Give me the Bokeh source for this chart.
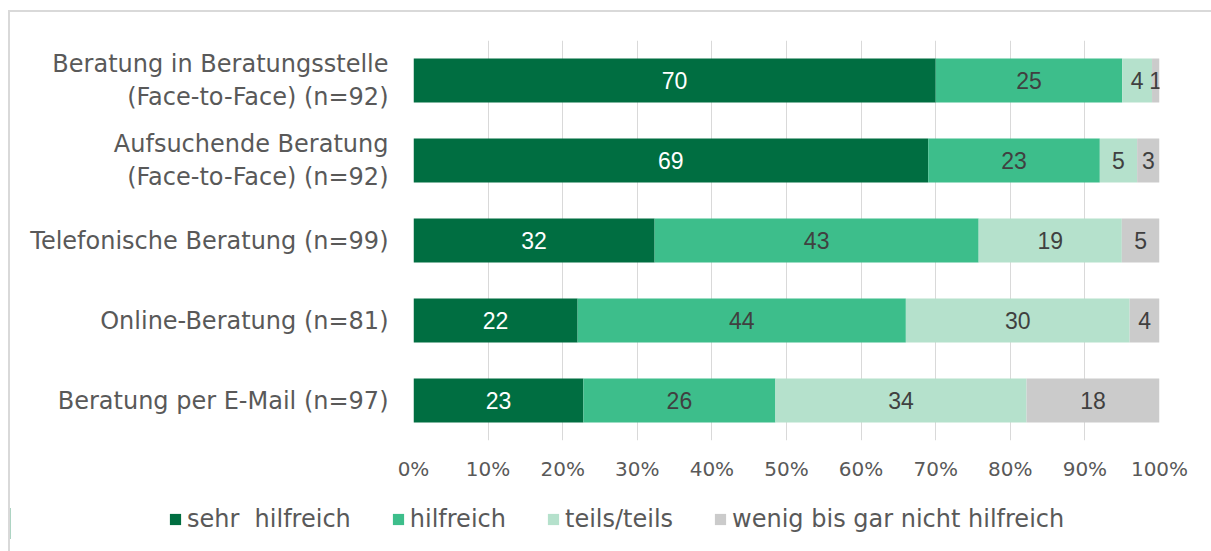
from bokeh.plotting import figure
from bokeh.layouts import column, row
from bokeh.models import (ColumnDataSource, FactorRange, Range1d, FixedTicker,
                          NumeralTickFormatter, Legend, LegendItem)
from bokeh.embed import file_html
from bokeh.resources import INLINE
from bokeh.core.properties import value

categories = [
    "Beratung in Beratungsstelle\n(Face-to-Face) (n=92)",
    "Aufsuchende Beratung\n(Face-to-Face) (n=92)",
    "Telefonische Beratung (n=99)",
    "Online-Beratung (n=81)",
    "Beratung per E-Mail (n=97)",
]
series_names = ["sehr  hilfreich", "hilfreich", "teils/teils", "wenig bis gar nicht hilfreich"]
sehr_hilfreich = [70, 69, 32, 22, 23]
hilfreich = [25, 23, 43, 44, 26]
teils_teils = [4, 5, 19, 30, 34]
wenig_bis_gar_nicht = [1, 3, 5, 4, 18]
x_ticks = [0.0, 0.1, 0.2, 0.3, 0.4, 0.5, 0.6, 0.7, 0.8, 0.9, 1.0]

colors = ["#006e41", "#3dbe8b", "#b5e1cc", "#cbcbcb"]
label_colors = ["#ffffff", "#404040", "#404040", "#404040"]
FONT = "DejaVu Sans"
LABEL_FONT = "Liberation Sans"
GREY = "#595959"

series_values = [sehr_hilfreich, hilfreich, teils_teils, wenig_bis_gar_nicht]
keys = ["s0", "s1", "s2", "s3"]
totals = [sum(v[i] for v in series_values) for i in range(len(categories))]

data = {"cat": categories}
for k, vals in zip(keys, series_values):
    data[k] = [vals[i] / totals[i] for i in range(len(categories))]
source = ColumnDataSource(data)

# label positions computed from the data
lx, ly, lt, lc = [], [], [], []
for i, cat in enumerate(categories):
    cum = 0.0
    for j, vals in enumerate(series_values):
        share = vals[i] / totals[i]
        lx.append(cum + share / 2)
        ly.append(cat)
        lt.append(str(vals[i]))
        lc.append(label_colors[j])
        cum += share
lab_src = ColumnDataSource(dict(x=lx, y=ly, text=lt, color=lc))

p = figure(width=1201, height=483, output_backend="svg", toolbar_location=None,
           x_range=Range1d(0, 1), y_range=FactorRange(factors=list(reversed(categories))),
           frame_width=746, frame_height=400, min_border_left=403, min_border_top=28,
           min_border_right=52, min_border_bottom=55)
p.outline_line_color = None
p.background_fill_color = "white"
p.border_fill_color = "white"

renderers = p.hbar_stack(keys, y="cat", height=0.55, color=colors, line_color=None, source=source)

p.text(x="x", y="y", text="text", source=lab_src, text_color="color",
       text_align="center", text_baseline="middle",
       text_font=value(LABEL_FONT), text_font_size="23px")

# axes
p.xaxis.ticker = FixedTicker(ticks=x_ticks)
p.xaxis.formatter = NumeralTickFormatter(format="0%")
p.xaxis.axis_line_color = None
p.xaxis.major_tick_line_color = None
p.xaxis.minor_tick_line_color = None
p.xaxis.major_tick_out = 0
p.xaxis.major_tick_in = 0
p.xaxis.major_label_standoff = 16
p.xaxis.major_label_text_font = FONT
p.xaxis.major_label_text_font_size = "20px"
p.xaxis.major_label_text_color = GREY

p.yaxis.axis_line_color = None
p.yaxis.major_tick_line_color = None
p.yaxis.minor_tick_line_color = None
p.yaxis.major_tick_out = 0
p.yaxis.major_tick_in = 0
p.yaxis.major_label_standoff = 25
p.yaxis.major_label_text_font = FONT
p.yaxis.major_label_text_font_size = "24px"
p.yaxis.major_label_text_color = GREY
p.yaxis.major_label_text_line_height = 1.15

p.xgrid.ticker = FixedTicker(ticks=x_ticks)
p.xgrid.grid_line_color = "#d9d9d9"
p.xgrid.grid_line_width = 1
p.ygrid.grid_line_color = None

# legend strip: its own small figure; its swatch renderers hold zero-width bars far outside the view
swatch = ColumnDataSource({"cat": ["swatch"], "s0": [0.0], "s1": [0.0], "s2": [0.0], "s3": [0.0]})
lg = figure(width=1201, height=56, output_backend="svg", toolbar_location=None,
            x_range=Range1d(5, 6), y_range=FactorRange(factors=["swatch"]),
            min_border=0, frame_width=1201, frame_height=56)
lg.xaxis.visible = False
lg.yaxis.visible = False
lg.xgrid.visible = False
lg.ygrid.visible = False
lg.outline_line_color = None
lg.background_fill_color = "white"
lg.border_fill_color = "white"
lg_renderers = lg.hbar_stack(keys, y="cat", height=0.55, color=colors, line_color=None, source=swatch)

legend = Legend(items=[LegendItem(label=n, renderers=[r]) for n, r in zip(series_names, lg_renderers)],
                orientation="horizontal", location=(158, 18),
                glyph_width=14, glyph_height=14, label_standoff=5, spacing=40,
                padding=0, margin=0, border_line_color=None, background_fill_alpha=0,
                label_text_font=FONT, label_text_font_size="24px", label_text_color=GREY,
                label_height=24)
lg.add_layout(legend)

layout = column(p, row(lg, spacing=0), spacing=0,
                styles={"margin-left": "8px", "margin-top": "10px",
                        "border-left": "2px solid #d9d9d9", "border-top": "2px solid #d9d9d9"})

open("out.html", "w").write(file_html(layout, INLINE))
